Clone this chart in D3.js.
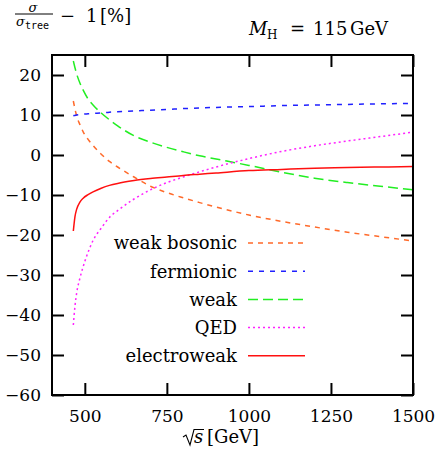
<!DOCTYPE html>
<html>
<head>
<meta charset="utf-8">
<script src="https://cdn.jsdelivr.net/npm/d3@7"></script>
<style>
  body { margin: 0; background: #fff; }
  svg text { fill: #000; }
</style>
</head>
<body>
<div id="chart"></div>
<script>
// data
const energies = [465, 470, 475, 485, 495, 510, 525, 550, 575, 600, 650, 700, 750, 800, 850, 900, 1000, 1100, 1200, 1300, 1400, 1500];
const weakBosonic = [13.5, 11.5, 9.8, 7.6, 5.8, 3.9, 2.4, 0.2, -1.6, -3.0, -5.5, -7.8, -9.4, -10.7, -11.9, -13.0, -15.0, -16.6, -18.0, -19.3, -20.4, -21.5];
const fermionic = [9.8, 9.9, 10.0, 10.1, 10.2, 10.3, 10.4, 10.5, 10.7, 10.8, 11.0, 11.2, 11.4, 11.6, 11.75, 11.9, 12.1, 12.35, 12.5, 12.65, 12.8, 12.9];
const weak = [23.5, 21.8, 20.3, 18.0, 16.2, 14.0, 12.5, 10.5, 8.8, 7.3, 4.8, 3.2, 1.9, 0.8, -0.2, -1.0, -2.6, -4.3, -5.8, -6.9, -7.8, -8.7];
const qed = [-42.5, -37.8, -34.6, -30.8, -27.9, -24.3, -21.4, -18.3, -15.6, -13.9, -11.0, -8.7, -6.9, -5.5, -4.2, -3.0, -0.9, 0.9, 2.3, 3.5, 4.6, 5.7];
const electroweak = [-19.0, -15.4, -13.6, -11.8, -10.8, -9.9, -9.2, -8.3, -7.6, -7.1, -6.4, -5.9, -5.5, -5.1, -4.8, -4.5, -3.9, -3.6, -3.3, -3.15, -3.0, -2.9];

const seriesNames = ['weak bosonic', 'fermionic', 'weak', 'QED', 'electroweak'];
const seriesValues = [weakBosonic, fermionic, weak, qed, electroweak];
const xTicks = [500, 750, 1000, 1250, 1500];
const yTicks = [-60, -50, -40, -30, -20, -10, 0, 10, 20];

// styles
const colors = ['#ff6a2a', '#2020ff', '#22ee22', '#ff22ff', '#ff1010'];
const dashes = ['5,5', '5,6', '10,5', '2,3', null];
const FONT_FAMILY = 'DejaVu Serif';

// dimensions
const WIDTH = 436;
const HEIGHT = 462;
const MARGIN_TOP = 55;
const MARGIN_BOTTOM = 67;
const MARGIN_LEFT = 52;
const MARGIN_RIGHT = 23;
const TICK = 12;
const FONT = 17;
const FONT_TEXT = 18;

const $svg = d3.select('#chart').append('svg')
  .attr('width', WIDTH)
  .attr('height', HEIGHT)
  .attr('font-family', FONT_FAMILY);

const scaleX = d3.scaleLinear().domain([400, 1500]).range([MARGIN_LEFT, WIDTH - MARGIN_RIGHT]);
const scaleY = d3.scaleLinear().domain([-60, 25]).range([HEIGHT - MARGIN_BOTTOM, MARGIN_TOP]);

const series = seriesNames.map((name, i) => ({
  name,
  color: colors[i],
  dash: dashes[i],
  points: energies.map((e, j) => ({ x: e, y: seriesValues[i][j] })),
}));

// curves
const line = d3.line()
  .x((d) => scaleX(d.x))
  .y((d) => scaleY(d.y))
  .curve(d3.curveMonotoneX);

const $vis = $svg.append('g').attr('class', 'g-vis');
$vis.selectAll('path')
  .data(series)
  .join('path')
  .attr('d', (d) => line(d.points))
  .attr('fill', 'none')
  .attr('stroke', (d) => d.color)
  .attr('stroke-width', 1.5)
  .attr('stroke-dasharray', (d) => d.dash);

// axes with inward ticks
const styleAxis = (g) => {
  g.attr('font-family', FONT_FAMILY).attr('font-size', FONT);
  g.select('.domain').remove();
  g.selectAll('.tick line').attr('stroke', '#000').attr('stroke-width', 2);
};

$svg.append('g')
  .attr('transform', `translate(0, ${scaleY.range()[0]})`)
  .call(d3.axisBottom(scaleX).tickValues(xTicks).tickSizeInner(-TICK).tickSizeOuter(0).tickPadding(15)
    .tickFormat(d3.format('d')))
  .call(styleAxis);

$svg.append('g')
  .attr('transform', `translate(0, ${scaleY.range()[1]})`)
  .call(d3.axisTop(scaleX).tickValues(xTicks).tickSizeInner(-TICK).tickSizeOuter(0).tickFormat(''))
  .call(styleAxis);

$svg.append('g')
  .attr('transform', `translate(${scaleX.range()[0]}, 0)`)
  .call(d3.axisLeft(scaleY).tickValues(yTicks).tickSizeInner(-TICK).tickSizeOuter(0).tickPadding(11)
    .tickFormat((d) => (d < 0 ? `\u2212${-d}` : d)))
  .call(styleAxis);

$svg.append('g')
  .attr('transform', `translate(${scaleX.range()[1]}, 0)`)
  .call(d3.axisRight(scaleY).tickValues(yTicks).tickSizeInner(-TICK).tickSizeOuter(0).tickFormat(''))
  .call(styleAxis);

// frame
$svg.append('rect')
  .attr('x', scaleX.range()[0])
  .attr('y', scaleY.range()[1])
  .attr('width', scaleX.range()[1] - scaleX.range()[0])
  .attr('height', scaleY.range()[0] - scaleY.range()[1])
  .attr('fill', 'none')
  .attr('stroke', '#000')
  .attr('stroke-width', 2);

// legend
const $legend = $svg.append('g').attr('class', 'g-legend');
const legendRow = $legend.selectAll('g')
  .data(series)
  .join('g')
  .attr('transform', (d, i) => `translate(0, ${243 + i * 28.2})`);

legendRow.append('text')
  .attr('x', 237)
  .attr('y', 0)
  .attr('dy', '0.35em')
  .attr('text-anchor', 'end')
  .attr('font-size', FONT_TEXT)
  .text((d) => d.name);

legendRow.append('line')
  .attr('x1', 248)
  .attr('x2', 305)
  .attr('stroke', (d) => d.color)
  .attr('stroke-width', 1.5)
  .attr('stroke-dasharray', (d) => d.dash);

// y label: sigma / sigma_tree - 1 [%]
const $yl = $svg.append('g').attr('class', 'g-ylabel');
$yl.append('text').attr('x', 33).attr('y', 12).attr('text-anchor', 'middle')
  .attr('font-size', 13).attr('font-style', 'italic').text('σ');
$yl.append('line').attr('x1', 15).attr('x2', 53).attr('y1', 14).attr('y2', 14)
  .attr('stroke', '#000').attr('stroke-width', 1);
$yl.append('text').attr('x', 16).attr('y', 26)
  .attr('font-size', 13).attr('font-style', 'italic').text('σ');
$yl.append('text').attr('x', 25).attr('y', 29)
  .attr('font-size', 10).attr('font-family', 'DejaVu Sans Mono').text('tree');
const $ylRest = $yl.append('text').attr('y', 22).attr('font-size', FONT_TEXT);
$ylRest.append('tspan').attr('x', 60).text('\u2212');
$ylRest.append('tspan').attr('x', 86).text('1');
$ylRest.append('tspan').attr('x', 100).text('[%]');

// Higgs mass label
const $mh = $svg.append('text').attr('y', 35).attr('font-size', FONT_TEXT);
$mh.append('tspan').attr('x', 249).attr('font-style', 'italic').text('M');
$mh.append('tspan').attr('x', 267).attr('dy', 4).attr('font-size', 12).text('H');
$mh.append('tspan').attr('x', 290).attr('dy', -4).text('=');
$mh.append('tspan').attr('x', 313).text('115');
$mh.append('tspan').attr('x', 350).text('GeV');

// x label: sqrt(s) [GeV]
const $xl = $svg.append('g').attr('class', 'g-xlabel');
$xl.append('path')
  .attr('d', 'M183,437 L186,435 L190,445 L194,429.5 L204,429.5')
  .attr('fill', 'none')
  .attr('stroke', '#000')
  .attr('stroke-width', 1.1);
$xl.append('text').attr('x', 194).attr('y', 443).attr('font-size', FONT_TEXT)
  .attr('font-style', 'italic').text('s');
$xl.append('text').attr('x', 207).attr('y', 443).attr('font-size', FONT_TEXT).text('[GeV]');
</script>
</body>
</html>
